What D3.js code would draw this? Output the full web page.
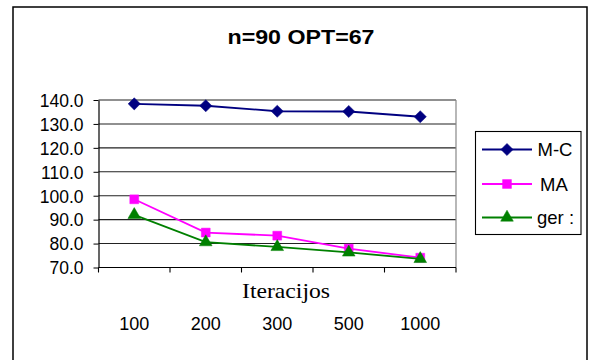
<!DOCTYPE html>
<html>
<head>
<meta charset="utf-8">
<script src="https://cdn.jsdelivr.net/npm/d3@7"></script>
<style>
  html, body { margin: 0; padding: 0; background: #fff; }
  svg { display: block; }
  text { font-family: "Liberation Sans", Arial, sans-serif; fill: #000; }
</style>
</head>
<body>
<svg id="chart" width="589" height="360"></svg>
<script>
// Iteration counts on the category axis
const categories = ["100", "200", "300", "500", "1000"];
// Average tour length per method
const mcValues  = [138.4, 137.6, 135.3, 135.2, 133.0];
const maValues  = [98.5, 84.6, 83.3, 77.9, 74.1];
const gerValues = [92.0, 80.6, 78.6, 76.3, 73.6];
const seriesNames = ["M-C", "MA", "ger :"];
const yTicks = [70, 80, 90, 100, 110, 120, 130, 140];
const titleText = "n=90 OPT=67";
const xTitle = "Iteracijos";

const series = [
  { name: seriesNames[0], values: mcValues,  color: "#000080", symbol: d3.symbolDiamond2, size: 95 },
  { name: seriesNames[1], values: maValues,  color: "#FF00FF", symbol: d3.symbolSquare2,  size: 100 },
  { name: seriesNames[2], values: gerValues, color: "#008000", symbol: d3.symbolTriangle2, size: 115 }
];

const svg = d3.select("#chart");

// Outer chart frame
svg.append("rect")
  .attr("x", 13).attr("y", 7).attr("width", 574).attr("height", 360)
  .attr("fill", "#fff").attr("stroke", "#000").attr("stroke-width", 1.5);

// Title
svg.append("text")
  .attr("x", 301).attr("y", 43.5)
  .attr("text-anchor", "middle")
  .style("font-size", "21px").style("font-weight", "bold")
  .attr("textLength", 147).attr("lengthAdjust", "spacingAndGlyphs")
  .text(titleText);

const plot = { left: 98.5, right: 456, top: 100, bottom: 267.5 };

const x = d3.scaleBand().domain(categories).range([plot.left, plot.right]).padding(0);
const y = d3.scaleLinear().domain([70, 140]).range([plot.bottom, plot.top]);

// Gridlines
svg.append("g")
  .selectAll("line")
  .data(yTicks.slice(1))
  .join("line")
  .attr("x1", plot.left).attr("x2", plot.right)
  .attr("y1", d => y(d)).attr("y2", d => y(d))
  .attr("stroke", "#222").attr("stroke-width", 1.1);

// Plot area border (right side)
svg.append("line")
  .attr("x1", plot.right).attr("x2", plot.right)
  .attr("y1", plot.top).attr("y2", plot.bottom)
  .attr("stroke", "#888").attr("stroke-width", 1.2);

// Y axis
const yAxis = d3.axisLeft(y).tickValues(yTicks).tickFormat(d3.format(".1f"))
  .tickSizeInner(5).tickSizeOuter(0).tickPadding(10);
const yg = svg.append("g").attr("transform", `translate(${plot.left},0)`).call(yAxis);
yg.select(".domain").attr("stroke", "#000").attr("stroke-width", 1.2);
yg.selectAll(".tick line").attr("stroke", "#000");
yg.selectAll(".tick text")
  .style("font-size", "17.5px")
  .style("font-family", "'Liberation Sans', Arial, sans-serif")
  .attr("fill", "#000")
  .attr("dy", "0.36em");

// X axis line with tick marks at category boundaries
const bounds = categories.map(c => x(c)).concat([x(categories[categories.length - 1]) + x.bandwidth()]);
svg.append("line")
  .attr("x1", plot.left).attr("x2", plot.right)
  .attr("y1", plot.bottom).attr("y2", plot.bottom)
  .attr("stroke", "#000").attr("stroke-width", 1.2);
svg.append("g").selectAll("line")
  .data(bounds)
  .join("line")
  .attr("x1", d => d).attr("x2", d => d)
  .attr("y1", plot.bottom).attr("y2", plot.bottom + 5)
  .attr("stroke", "#000").attr("stroke-width", 1.1);

// Axis title, then category labels beneath it
svg.append("text")
  .attr("x", 286).attr("y", 298)
  .attr("text-anchor", "middle")
  .style("font-family", "'Liberation Serif', 'Times New Roman', serif")
  .style("font-size", "21px")
  .attr("textLength", 88).attr("lengthAdjust", "spacingAndGlyphs")
  .text(xTitle);

svg.append("g").selectAll("text")
  .data(categories)
  .join("text")
  .attr("x", d => x(d) + x.bandwidth() / 2)
  .attr("y", 330)
  .attr("text-anchor", "middle")
  .style("font-size", "18px")
  .text(d => d);

// Series lines and markers
const cx = (d, i) => x(categories[i]) + x.bandwidth() / 2;
const line = d3.line().x(cx).y(d => y(d));

series.forEach(s => {
  svg.append("path")
    .datum(s.values)
    .attr("d", line)
    .attr("fill", "none")
    .attr("stroke", s.color)
    .attr("stroke-width", 1.8);
  svg.append("g").selectAll("path")
    .data(s.values)
    .join("path")
    .attr("transform", (d, i) => `translate(${cx(d, i)},${y(d)})`)
    .attr("d", d3.symbol(s.symbol, s.size))
    .attr("fill", s.color)
    .attr("stroke", s.color)
    .attr("stroke-width", 0.5);
});

// Legend
const legend = svg.append("g");
legend.append("rect")
  .attr("x", 475.5).attr("y", 131.5).attr("width", 105.5).attr("height", 103)
  .attr("fill", "#fff").attr("stroke", "#000").attr("stroke-width", 1.1);

const legendY = [149.5, 184, 217.5];
const legendTextX = [537.5, 540, 537];
series.forEach((s, i) => {
  const g = legend.append("g");
  g.append("line")
    .attr("x1", 482).attr("x2", 532)
    .attr("y1", legendY[i]).attr("y2", legendY[i])
    .attr("stroke", s.color).attr("stroke-width", 1.8);
  g.append("path")
    .attr("transform", `translate(507,${legendY[i]})`)
    .attr("d", d3.symbol(s.symbol, s.size))
    .attr("fill", s.color)
    .attr("stroke", s.color)
    .attr("stroke-width", 0.5);
  g.append("text")
    .attr("x", legendTextX[i]).attr("y", legendY[i] + 6.5)
    .style("font-size", "18.5px")
    .text(s.name);
});
</script>
</body>
</html>
